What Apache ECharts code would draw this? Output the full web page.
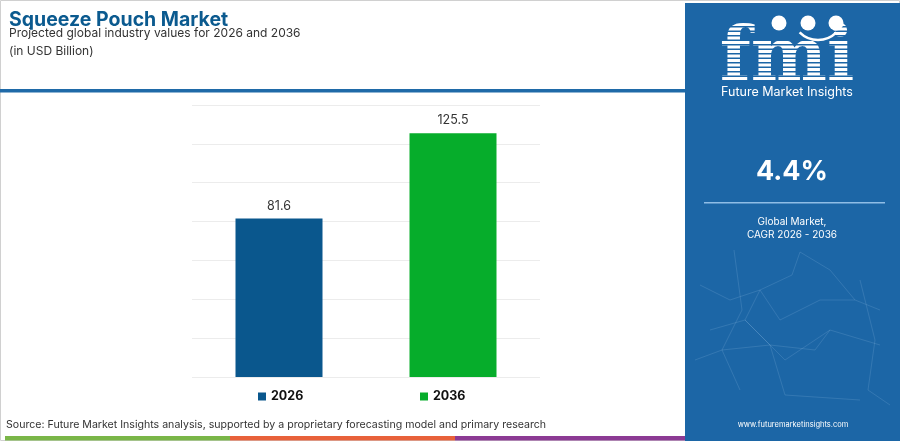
<!DOCTYPE html>
<html>
<head>
<meta charset="utf-8">
<script src="https://cdn.jsdelivr.net/npm/echarts@6/dist/echarts.min.js"></script>
<style>
html,body{margin:0;padding:0;background:#fff;}
#c{width:900px;height:441px;}
</style>
</head>
<body>
<div id="c"></div>
<script>
const categories = ['2026', '2036'];
const values2026 = [81.6, null];
const values2036 = [null, 125.5];
const cagrText = '4.4%';
const yMax = 140;
const yInterval = 20;

const FONT = 'Inter, "Noto Sans", sans-serif';
const chart = echarts.init(document.getElementById('c'), null, {renderer: 'canvas'});

// faint network lines in side panel
const net = [
  [[734,250],[742,310],[722,350],[740,390]],
  [[800,252],[792,275],[760,290],[745,320],[770,345],[815,350],[830,330]],
  [[800,252],[830,270],[855,300],[880,310]],
  [[700,285],[730,300],[760,290],[780,320],[820,300],[855,300]],
  [[710,330],[745,320],[785,360],[830,330],[880,345]],
  [[695,360],[722,350],[770,345],[785,395],[860,400]],
  [[860,280],[875,340],[868,390],[890,405]]
];
const netGraphics = net.map(p => ({
  type: 'polyline', shape: {points: p},
  style: {stroke: 'rgba(160,200,235,0.18)', lineWidth: 1, fill: null}, silent: true, z: 101
}));

// stripes across logo
const stripes = [];
for (let y = 26; y < 82; y += 4.5) {
  stripes.push({type:'rect', shape:{x:715,y:y,width:145,height:1.4}, style:{fill:'#1c66a6'}, z:102});
}

const legendText = {fontSize: 12.5, fontWeight: 'bold', color: '#111', fontFamily: FONT};

chart.setOption({
  animation: false,
  textStyle: {fontFamily: FONT},
  grid: {left: 192, right: 360, top: 105, bottom: 64},
  xAxis: {
    type: 'category', data: categories,
    axisLine: {show: false}, axisTick: {show: false}, axisLabel: {show: false}
  },
  yAxis: {
    type: 'value', min: 0, max: yMax, interval: yInterval,
    axisLabel: {show: false}, axisLine: {show: false}, axisTick: {show: false},
    splitLine: {lineStyle: {color: '#ececec', width: 1}}
  },
  legend: [
    {data: ['2026'], left: 253, top: 385, itemWidth: 8, itemHeight: 8, itemGap: 4, icon: 'rect', textStyle: legendText},
    {data: ['2036'], left: 415, top: 385, itemWidth: 8, itemHeight: 8, itemGap: 4, icon: 'rect', textStyle: legendText}
  ],
  series: [
    {name: '2026', type: 'bar', data: values2026, barWidth: '50%', barGap: '-100%',
     itemStyle: {color: '#0a578d'},
     label: {show: true, position: 'top', distance: 6, fontSize: 12.5, color: '#333', fontFamily: FONT}},
    {name: '2036', type: 'bar', data: values2036, barWidth: '50%', barGap: '-100%',
     itemStyle: {color: '#06ad2b'},
     label: {show: true, position: 'top', distance: 6, fontSize: 12.5, color: '#333', fontFamily: FONT}}
  ],
  graphic: [
    {type:'rect', shape:{x:0.5,y:0.5,width:899,height:440}, style:{fill:null, stroke:'#d0d0d0', lineWidth:1}, silent:true, z:-1},
    {type:'text', left: 9, top: 10, style:{text:'Squeeze Pouch Market', font:'bold 19.5px '+FONT, fill:'#0b5a8f'}},
    {type:'text', left: 9, top: 27, style:{text:'Projected global industry values for 2026 and 2036', font:'12px '+FONT, fill:'#333'}},
    {type:'text', left: 9, top: 45, style:{text:'(in USD Billion)', font:'12px '+FONT, fill:'#333'}},
    {type:'rect', shape:{x:0,y:89,width:686,height:3.5}, style:{fill:'#1f6aa8'}},
    // side panel
    {type:'rect', shape:{x:685,y:3,width:215,height:438}, style:{fill:'#1c66a6'}, z:100},
    ...netGraphics,
    {type:'text', x:787, y:60, scaleY:1.05, style:{text:'fmi', font:'bold 72px "DejaVu Serif", serif', fill:'#ffffff', textAlign:'center', textVerticalAlign:'middle'}, z:101},
    ...stripes,
    {type:'circle', shape:{cx:779,cy:23,r:7.5}, style:{fill:'#ffffff'}, z:103},
    {type:'circle', shape:{cx:808,cy:23,r:7.5}, style:{fill:'#ffffff'}, z:103},
    {type:'circle', shape:{cx:836,cy:23,r:7.5}, style:{fill:'#ffffff'}, z:103},
    {type:'arc', shape:{cx:818,cy:14,r:26,startAngle:Math.PI*0.25,endAngle:Math.PI*0.75}, style:{stroke:'#ffffff', lineWidth:2.5, fill:null}, z:103},
    {type:'text', x:787, y:92, style:{text:'Future Market Insights', font:'12.5px '+FONT, fill:'#ffffff', textAlign:'center', textVerticalAlign:'middle'}, z:103},
    {type:'text', x:792, y:172, style:{text:cagrText, font:'bold 27px '+FONT, fill:'#ffffff', textAlign:'center', textVerticalAlign:'middle'}, z:103},
    {type:'rect', shape:{x:704,y:202,width:181,height:1.5}, style:{fill:'#8fbde6'}, z:103},
    {type:'text', x:792, y:222, style:{text:'Global Market,', font:'10px '+FONT, fill:'#ffffff', textAlign:'center', textVerticalAlign:'middle'}, z:103},
    {type:'text', x:792, y:235, style:{text:'CAGR 2026 - 2036', font:'10px '+FONT, fill:'#ffffff', textAlign:'center', textVerticalAlign:'middle'}, z:103},
    {type:'text', x:793, y:425, style:{text:'www.futuremarketinsights.com', font:'7.5px '+FONT, fill:'#ffffff', textAlign:'center', textVerticalAlign:'middle'}, z:103},
    // source
    {type:'text', left: 6, top: 419, style:{text:'Source: Future Market Insights analysis, supported by a proprietary forecasting model and primary research', font:'10.6px '+FONT, fill:'#333'}},
    {type:'rect', shape:{x:5,y:436,width:225,height:4.5}, style:{fill:'#7ab648'}},
    {type:'rect', shape:{x:230,y:436,width:225,height:4.5}, style:{fill:'#e8613a'}},
    {type:'rect', shape:{x:455,y:436,width:230,height:4.5}, style:{fill:'#8c3a94'}}
  ]
});
</script>
</body>
</html>
